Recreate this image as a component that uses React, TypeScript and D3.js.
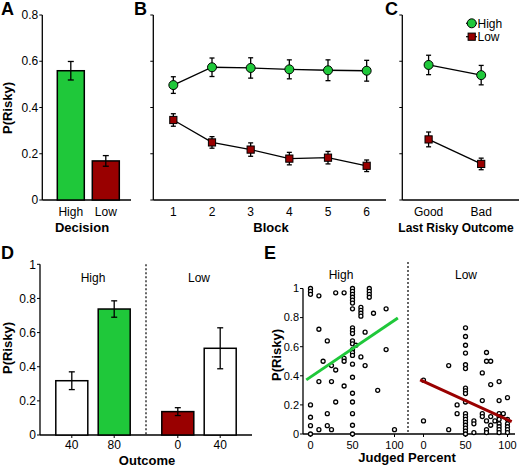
import React from 'react';
import * as d3 from 'd3';

const GREEN = '#1fc83a';
const RED = '#990000';
const FONT = '"Liberation Sans", Arial, Helvetica, sans-serif';

// Panel A
const decisionCats = ['High', 'Low'];
const decisionValues = [0.559, 0.169];
const decisionErrors = [0.04, 0.023];

// Panel B
const blocks = [1, 2, 3, 4, 5, 6];
const blockHigh = [0.497, 0.574, 0.571, 0.565, 0.561, 0.559];
const blockHighErr = [0.036, 0.04, 0.044, 0.041, 0.045, 0.045];
const blockLow = [0.346, 0.249, 0.218, 0.179, 0.183, 0.148];
const blockLowErr = [0.027, 0.025, 0.029, 0.027, 0.027, 0.025];

// Panel C
const lastOutcomes = ['Good', 'Bad'];
const lastHigh = [0.584, 0.54];
const lastHighErr = [0.042, 0.042];
const lastLow = [0.262, 0.156];
const lastLowErr = [0.032, 0.025];

const abcTicks = [0, 0.2, 0.4, 0.6, 0.8];

// Panel D
const dGroups = ['High', 'Low'];
const dBarGroup = ['High', 'High', 'Low', 'Low'];
const dOutcomes = ['40', '80', '0', '40'];
const dValues = [0.318, 0.738, 0.137, 0.508];
const dErrors = [0.052, 0.048, 0.023, 0.12];
const dTicks = [0, 0.2, 0.4, 0.6, 0.8, 1];

// Panel E
const eXTicks = [0, 50, 100];
const eYTicks = [0, 0.2, 0.4, 0.6, 0.8, 1];
const eHighX = [
  0, 0, 0, 0, 0, 0, 0,
  10, 30, 40,
  50, 50, 50, 50, 50, 50, 50, 50, 50, 50, 50, 50, 50, 50, 50, 50, 50, 50, 50, 50, 50, 50,
  70, 70, 70, 70,
  60, 60, 60, 60,
  75, 90,
  10, 65, 20, 54, 90, 60,
  15, 25, 30, 40, 40, 65,
  10, 25, 40, 80, 30,
  20, 20, 10, 25, 100,
];
const eHighY = [
  1.0, 0.98, 0.96, 0.2, 0.115, 0.057, 0,
  0.95, 0.97, 0.97,
  1.0, 0.98, 0.96, 0.94, 0.92, 0.9, 0.86, 0.73, 0.71, 0.69, 0.64, 0.62, 0.58, 0.56, 0.54, 0.48, 0.39, 0.28, 0.22, 0.14, 0.06, 0,
  1.0, 0.98, 0.96, 0.94,
  0.87, 0.85, 0.83, 0.81,
  0.83, 0.86,
  0.72, 0.7, 0.64, 0.61, 0.58, 0.53,
  0.5, 0.47, 0.44, 0.52, 0.5, 0.47,
  0.36, 0.36, 0.33, 0.3, 0.22,
  0.14, 0.057, 0.03, 0.03, 0.03,
];
const eLowX = [
  0, 0,
  30, 30,
  50, 50, 50, 50, 50, 50, 50, 50, 50, 50, 50, 50, 50, 50, 50, 50, 50, 50,
  75, 75, 80, 70, 80, 90,
  40, 40,
  100, 90, 70,
  60, 60, 60,
  70, 70,
  75, 75, 75,
  80, 80,
  85,
  90, 90, 90, 90, 90, 90, 90,
  95,
  100, 100, 100, 100, 100,
];
const eLowY = [
  0.37, 0.09,
  0.47, 0.03,
  0.73, 0.67, 0.61, 0.556, 0.476, 0.45, 0.315, 0.297, 0.278, 0.22, 0.14, 0.12, 0.1, 0.08, 0.06, 0.04, 0.02, 0,
  0.56, 0.5, 0.5, 0.42, 0.34, 0.36,
  0.2, 0.14,
  0.25, 0.23, 0.23,
  0.09, 0.07, 0.01,
  0.14, 0.12,
  0.09, 0.03, 0.01,
  0.12, 0.06,
  0.09,
  0.14, 0.12, 0.1, 0.07, 0.05, 0.03, 0.01,
  0.14,
  0.1, 0.07, 0.05, 0.03, 0.01,
];
const eHighFitX = [-5, 104];
const eHighFitY = [0.372, 0.797];
const eLowFitX = [-4, 105];
const eLowFitY = [0.372, 0.085];

const fmt = (v: number) => (v === 0 ? '0' : v === 1 ? '1' : String(v));

function ErrBar({ x, y0, y1, w = 6 }: { x: number; y0: number; y1: number; w?: number }) {
  return (
    <g stroke="#000" strokeWidth={1.3}>
      <line x1={x} x2={x} y1={y0} y2={y1} />
      <line x1={x - w / 2} x2={x + w / 2} y1={y0} y2={y0} />
      <line x1={x - w / 2} x2={x + w / 2} y1={y1} y2={y1} />
    </g>
  );
}

function YAxis({ x, scale, ticks, labels, fontSize = 12 }: any) {
  const [r0, r1] = scale.range();
  return (
    <g>
      <line x1={x} x2={x} y1={r0} y2={r1} stroke="#000" strokeWidth={1.3} />
      {ticks.map((t: number) => (
        <g key={t}>
          <line x1={x - 3} x2={x} y1={scale(t)} y2={scale(t)} stroke="#000" strokeWidth={1} />
          {labels && (
            <text x={x - 4} y={scale(t)} dy="0.35em" textAnchor="end" fontSize={fontSize}>
              {fmt(t)}
            </text>
          )}
        </g>
      ))}
    </g>
  );
}

function Circle({ cx, cy }: { cx: number; cy: number }) {
  return <circle cx={cx} cy={cy} r={4.5} fill={GREEN} stroke="#000" strokeWidth={1} />;
}
function Square({ cx, cy }: { cx: number; cy: number }) {
  return <rect x={cx - 3.6} y={cy - 3.6} width={7.2} height={7.2} fill={RED} stroke="#000" strokeWidth={1} />;
}

export default function App() {
  // Panel A
  const yA = d3.scaleLinear().domain([0, 0.8]).range([200, 15]);
  const xA = d3.scalePoint<string>().domain(decisionCats).range([70.8, 105.8]);
  const barWA = 27;

  // Panel B
  const xB = d3.scaleLinear().domain([0.5, 6.5]).range([154, 386]);
  const lineB = d3.line<number>().x((_, i) => xB(blocks[i])).y((d) => yA(d));

  // Panel C
  const xC = d3.scaleLinear().domain([-0.5, 1.7]).range([402.3, 518]);
  const lineC = d3.line<number>().x((_, i) => xC(i)).y((d) => yA(d));

  // Panel D
  const yD = d3.scaleLinear().domain([0, 1]).range([435, 264.3]);
  const gD = d3.scaleBand<string>().domain(dGroups).range([40, 252]);
  const barWD = 32;
  const dX = (i: number) => {
    const g = dBarGroup[i];
    const j = dBarGroup.slice(0, i).filter((q) => q === g).length;
    return (gD(g) as number) + gD.bandwidth() / 2 + (j - 0.5) * 42.4;
  };

  // Panel E
  const yE = d3.scaleLinear().domain([0, 1]).range([434, 288.5]);
  const xEH = d3.scaleLinear().domain([0, 100]).range([310.5, 394.5]);
  const xEL = d3.scaleLinear().domain([0, 100]).range([423.5, 507.5]);

  return (
    <svg
      width={519}
      height={467}
      style={{ position: 'absolute', left: 0, top: 0, background: '#fff' }}
      fontFamily={FONT}
    >
      <rect width={519} height={467} fill="#fff" />
      {/* Panel letters */}
      <g fontWeight="bold" fontSize={18}>
        <text x={1} y={15}>A</text>
        <text x={134} y={15}>B</text>
        <text x={385} y={15}>C</text>
        <text x={1} y={259}>D</text>
        <text x={264} y={259}>E</text>
      </g>

      {/* Panel A */}
      <YAxis x={42.3} scale={yA} ticks={abcTicks} labels />
      <line x1={42.3} x2={131} y1={200} y2={200} stroke="#000" strokeWidth={1.3} />
      {decisionCats.map((c, i) => (
        <g key={c}>
          <rect
            x={(xA(c) as number) - barWA / 2}
            y={yA(decisionValues[i])}
            width={barWA}
            height={200 - yA(decisionValues[i])}
            fill={i === 0 ? GREEN : RED}
            stroke="#000"
            strokeWidth={1.5}
          />
          <ErrBar
            x={xA(c) as number}
            y0={yA(decisionValues[i] + decisionErrors[i])}
            y1={yA(decisionValues[i] - decisionErrors[i])}
          />
          <text x={xA(c)} y={215.5} textAnchor="middle" fontSize={12}>{c}</text>
        </g>
      ))}
      <text x={82} y={232} textAnchor="middle" fontSize={13} fontWeight="bold">Decision</text>
      <text transform="translate(11.5,108) rotate(-90)" textAnchor="middle" fontSize={13} fontWeight="bold">
        P(Risky)
      </text>

      {/* Panel B */}
      <YAxis x={153.3} scale={yA} ticks={abcTicks} />
      <line x1={153.3} x2={386} y1={200} y2={200} stroke="#000" strokeWidth={1.3} />
      <path d={lineB(blockHigh) || ''} fill="none" stroke="#000" strokeWidth={1.3} />
      <path d={lineB(blockLow) || ''} fill="none" stroke="#000" strokeWidth={1.3} />
      {blocks.map((b, i) => (
        <g key={b}>
          <ErrBar x={xB(b)} y0={yA(blockHigh[i] + blockHighErr[i])} y1={yA(blockHigh[i] - blockHighErr[i])} w={5} />
          <Circle cx={xB(b)} cy={yA(blockHigh[i])} />
          <ErrBar x={xB(b)} y0={yA(blockLow[i] + blockLowErr[i])} y1={yA(blockLow[i] - blockLowErr[i])} w={5} />
          <Square cx={xB(b)} cy={yA(blockLow[i])} />
          <text x={xB(b)} y={215.5} textAnchor="middle" fontSize={12}>{b}</text>
        </g>
      ))}
      <text x={271} y={232} textAnchor="middle" fontSize={13} fontWeight="bold">Block</text>

      {/* Panel C */}
      <YAxis x={402.3} scale={yA} ticks={abcTicks} />
      <line x1={402.3} x2={519} y1={200} y2={200} stroke="#000" strokeWidth={1.3} />
      <path d={lineC(lastHigh) || ''} fill="none" stroke="#000" strokeWidth={1.3} />
      <path d={lineC(lastLow) || ''} fill="none" stroke="#000" strokeWidth={1.3} />
      {lastOutcomes.map((o, i) => (
        <g key={o}>
          <ErrBar x={xC(i)} y0={yA(lastHigh[i] + lastHighErr[i])} y1={yA(lastHigh[i] - lastHighErr[i])} w={5} />
          <Circle cx={xC(i)} cy={yA(lastHigh[i])} />
          <ErrBar x={xC(i)} y0={yA(lastLow[i] + lastLowErr[i])} y1={yA(lastLow[i] - lastLowErr[i])} w={5} />
          <Square cx={xC(i)} cy={yA(lastLow[i])} />
          <text x={xC(i)} y={215.5} textAnchor="middle" fontSize={12}>{o}</text>
        </g>
      ))}
      <text x={456} y={232} textAnchor="middle" fontSize={12} fontWeight="bold">Last Risky Outcome</text>
      {/* Legend */}
      <g>
        <line x1={466} x2={477} y1={23.3} y2={23.3} stroke="#000" strokeWidth={1.2} />
        <Circle cx={471.7} cy={23.3} />
        <text x={477.5} y={27.5} fontSize={12}>High</text>
        <line x1={466} x2={477} y1={36.7} y2={36.7} stroke="#000" strokeWidth={1.2} />
        <Square cx={471.7} cy={36.7} />
        <text x={477.5} y={41} fontSize={12}>Low</text>
      </g>

      {/* Panel D */}
      <YAxis x={40} scale={yD} ticks={dTicks} labels />
      <line x1={40} x2={252} y1={435} y2={435} stroke="#000" strokeWidth={1.3} />
      <line x1={146} x2={146} y1={264.3} y2={435} stroke="#000" strokeWidth={1.2} strokeDasharray="2,2" />
      {dGroups.map((g) => (
        <text key={g} x={(gD(g) as number) + gD.bandwidth() / 2} y={282} textAnchor="middle" fontSize={12}>
          {g}
        </text>
      ))}
      {dValues.map((v, i) => (
        <g key={i}>
          <rect
            x={dX(i) - barWD / 2}
            y={yD(v)}
            width={barWD}
            height={435 - yD(v)}
            fill={i === 1 ? GREEN : i === 2 ? RED : '#fff'}
            stroke="#000"
            strokeWidth={1.5}
          />
          <ErrBar x={dX(i)} y0={yD(v + dErrors[i])} y1={yD(v - dErrors[i])} />
          <line x1={dX(i)} x2={dX(i)} y1={435} y2={438} stroke="#000" strokeWidth={1} />
          <text x={dX(i)} y={449} textAnchor="middle" fontSize={12}>{dOutcomes[i]}</text>
        </g>
      ))}
      <text x={147} y={464.5} textAnchor="middle" fontSize={13} fontWeight="bold">Outcome</text>
      <text transform="translate(12,348) rotate(-90)" textAnchor="middle" fontSize={13} fontWeight="bold">
        P(Risky)
      </text>

      {/* Panel E */}
      <YAxis x={303} scale={yE} ticks={eYTicks} labels fontSize={11} />
      <line x1={303} x2={515} y1={434} y2={434} stroke="#000" strokeWidth={1.3} />
      <line x1={408} x2={408} y1={262} y2={434} stroke="#000" strokeWidth={1.2} strokeDasharray="2,2" />
      <text x={341} y={278.5} textAnchor="middle" fontSize={12}>High</text>
      <text x={466} y={278.5} textAnchor="middle" fontSize={12}>Low</text>
      {eXTicks.map((t) => (
        <g key={t}>
          <line x1={xEH(t)} x2={xEH(t)} y1={434} y2={437} stroke="#000" strokeWidth={1} />
          <text x={xEH(t)} y={448.5} textAnchor="middle" fontSize={11}>{t}</text>
          <line x1={xEL(t)} x2={xEL(t)} y1={434} y2={437} stroke="#000" strokeWidth={1} />
          <text x={xEL(t)} y={448.5} textAnchor="middle" fontSize={11}>{t}</text>
        </g>
      ))}
      {eHighX.map((x, i) => (
        <circle key={'h' + i} cx={xEH(x)} cy={yE(eHighY[i])} r={2} fill="#fff" stroke="#000" strokeWidth={1.3} />
      ))}
      {eLowX.map((x, i) => (
        <circle key={'l' + i} cx={xEL(x)} cy={yE(eLowY[i])} r={2} fill="#fff" stroke="#000" strokeWidth={1.3} />
      ))}
      <line
        x1={xEH(eHighFitX[0])}
        x2={xEH(eHighFitX[1])}
        y1={yE(eHighFitY[0])}
        y2={yE(eHighFitY[1])}
        stroke={GREEN}
        strokeWidth={3}
      />
      <line
        x1={xEL(eLowFitX[0])}
        x2={xEL(eLowFitX[1])}
        y1={yE(eLowFitY[0])}
        y2={yE(eLowFitY[1])}
        stroke={RED}
        strokeWidth={3}
      />
      <text x={407} y={462} textAnchor="middle" fontSize={13} fontWeight="bold">Judged Percent</text>
      <text transform="translate(281,355) rotate(-90)" textAnchor="middle" fontSize={13} fontWeight="bold">
        P(Risky)
      </text>
    </svg>
  );
}
